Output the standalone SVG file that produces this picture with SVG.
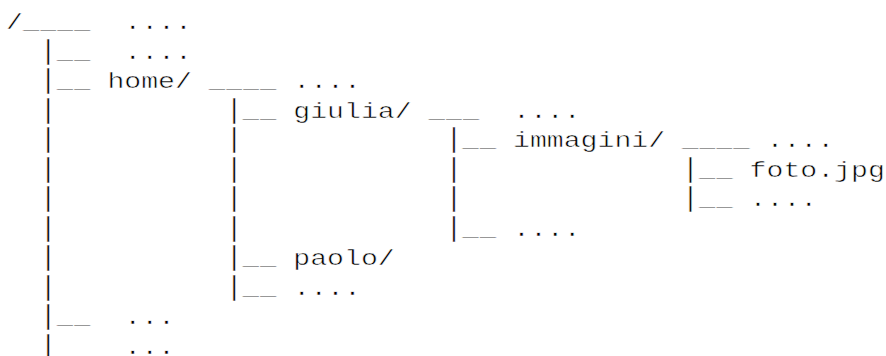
<svg xmlns="http://www.w3.org/2000/svg" width="886" height="356" viewBox="0 0 886 356">
  <style>
    text { font-family: "Liberation Mono", "Courier New", monospace; font-size: 22px; fill: #000; stroke: #fff; stroke-width: 0.5px; white-space: pre; }
    .bar { font-size: 28px; }
  </style>
  <rect width="886" height="356" fill="#fff"/>

  <!-- ASCII connectors of the directory tree (column width 16.9px, row pitch 29.5px);
       the "|" glyphs are set larger so each column reads as a near-continuous line -->
  <g id="connectors">
    <text x="22.9" y="29.3" textLength="67.6" lengthAdjust="spacingAndGlyphs">____</text>

    <text class="bar" x="39.8" y="58.8" textLength="16.9" lengthAdjust="spacingAndGlyphs">|</text>
    <text x="56.7" y="58.8" textLength="33.8" lengthAdjust="spacingAndGlyphs">__</text>

    <text class="bar" x="39.8" y="88.3" textLength="16.9" lengthAdjust="spacingAndGlyphs">|</text>
    <text x="56.7" y="88.3" textLength="33.8" lengthAdjust="spacingAndGlyphs">__</text>
    <text x="208.8" y="88.3" textLength="67.6" lengthAdjust="spacingAndGlyphs">____</text>

    <text class="bar" x="39.8" y="117.8" textLength="16.9" lengthAdjust="spacingAndGlyphs">|</text>
    <text class="bar" x="225.7" y="117.8" textLength="16.9" lengthAdjust="spacingAndGlyphs">|</text>
    <text x="242.6" y="117.8" textLength="33.8" lengthAdjust="spacingAndGlyphs">__</text>
    <text x="428.5" y="117.8" textLength="50.7" lengthAdjust="spacingAndGlyphs">___</text>

    <text class="bar" x="39.8" y="147.3" textLength="16.9" lengthAdjust="spacingAndGlyphs">|</text>
    <text class="bar" x="225.7" y="147.3" textLength="16.9" lengthAdjust="spacingAndGlyphs">|</text>
    <text class="bar" x="445.4" y="147.3" textLength="16.9" lengthAdjust="spacingAndGlyphs">|</text>
    <text x="462.3" y="147.3" textLength="33.8" lengthAdjust="spacingAndGlyphs">__</text>
    <text x="682" y="147.3" textLength="67.6" lengthAdjust="spacingAndGlyphs">____</text>

    <text class="bar" x="39.8" y="176.8" textLength="16.9" lengthAdjust="spacingAndGlyphs">|</text>
    <text class="bar" x="225.7" y="176.8" textLength="16.9" lengthAdjust="spacingAndGlyphs">|</text>
    <text class="bar" x="445.4" y="176.8" textLength="16.9" lengthAdjust="spacingAndGlyphs">|</text>
    <text class="bar" x="682" y="176.8" textLength="16.9" lengthAdjust="spacingAndGlyphs">|</text>
    <text x="698.9" y="176.8" textLength="33.8" lengthAdjust="spacingAndGlyphs">__</text>

    <text class="bar" x="39.8" y="206.3" textLength="16.9" lengthAdjust="spacingAndGlyphs">|</text>
    <text class="bar" x="225.7" y="206.3" textLength="16.9" lengthAdjust="spacingAndGlyphs">|</text>
    <text class="bar" x="445.4" y="206.3" textLength="16.9" lengthAdjust="spacingAndGlyphs">|</text>
    <text class="bar" x="682" y="206.3" textLength="16.9" lengthAdjust="spacingAndGlyphs">|</text>
    <text x="698.9" y="206.3" textLength="33.8" lengthAdjust="spacingAndGlyphs">__</text>

    <text class="bar" x="39.8" y="235.8" textLength="16.9" lengthAdjust="spacingAndGlyphs">|</text>
    <text class="bar" x="225.7" y="235.8" textLength="16.9" lengthAdjust="spacingAndGlyphs">|</text>
    <text class="bar" x="445.4" y="235.8" textLength="16.9" lengthAdjust="spacingAndGlyphs">|</text>
    <text x="462.3" y="235.8" textLength="33.8" lengthAdjust="spacingAndGlyphs">__</text>

    <text class="bar" x="39.8" y="265.3" textLength="16.9" lengthAdjust="spacingAndGlyphs">|</text>
    <text class="bar" x="225.7" y="265.3" textLength="16.9" lengthAdjust="spacingAndGlyphs">|</text>
    <text x="242.6" y="265.3" textLength="33.8" lengthAdjust="spacingAndGlyphs">__</text>

    <text class="bar" x="39.8" y="294.8" textLength="16.9" lengthAdjust="spacingAndGlyphs">|</text>
    <text class="bar" x="225.7" y="294.8" textLength="16.9" lengthAdjust="spacingAndGlyphs">|</text>
    <text x="242.6" y="294.8" textLength="33.8" lengthAdjust="spacingAndGlyphs">__</text>

    <text class="bar" x="39.8" y="324.3" textLength="16.9" lengthAdjust="spacingAndGlyphs">|</text>
    <text x="56.7" y="324.3" textLength="33.8" lengthAdjust="spacingAndGlyphs">__</text>

    <text class="bar" x="39.8" y="353.8" textLength="16.9" lengthAdjust="spacingAndGlyphs">|</text>
  </g>

  <!-- tree entries -->
  <g id="root"><text x="6" y="29.3" textLength="16.9" lengthAdjust="spacingAndGlyphs">/</text></g>
  <g id="root-more"><text x="124.3" y="29.3" textLength="67.6" lengthAdjust="spacingAndGlyphs">....</text></g>
  <g id="root-other"><text x="124.3" y="58.8" textLength="67.6" lengthAdjust="spacingAndGlyphs">....</text></g>
  <g id="home"><text x="107.4" y="88.3" textLength="84.5" lengthAdjust="spacingAndGlyphs">home/</text></g>
  <g id="home-more"><text x="293.3" y="88.3" textLength="67.6" lengthAdjust="spacingAndGlyphs">....</text></g>
  <g id="giulia"><text x="293.3" y="117.8" textLength="118.3" lengthAdjust="spacingAndGlyphs">giulia/</text></g>
  <g id="giulia-more"><text x="513" y="117.8" textLength="67.6" lengthAdjust="spacingAndGlyphs">....</text></g>
  <g id="immagini"><text x="513" y="147.3" textLength="152.1" lengthAdjust="spacingAndGlyphs">immagini/</text></g>
  <g id="immagini-more"><text x="766.5" y="147.3" textLength="67.6" lengthAdjust="spacingAndGlyphs">....</text></g>
  <g id="foto"><text x="749.6" y="176.8" textLength="135.2" lengthAdjust="spacingAndGlyphs">foto.jpg</text></g>
  <g id="immagini-other"><text x="749.6" y="206.3" textLength="67.6" lengthAdjust="spacingAndGlyphs">....</text></g>
  <g id="giulia-other"><text x="513" y="235.8" textLength="67.6" lengthAdjust="spacingAndGlyphs">....</text></g>
  <g id="paolo"><text x="293.3" y="265.3" textLength="101.4" lengthAdjust="spacingAndGlyphs">paolo/</text></g>
  <g id="home-other"><text x="293.3" y="294.8" textLength="67.6" lengthAdjust="spacingAndGlyphs">....</text></g>
  <g id="root-rest-1"><text x="124.3" y="324.3" textLength="50.7" lengthAdjust="spacingAndGlyphs">...</text></g>
  <g id="root-rest-2"><text x="124.3" y="353.8" textLength="50.7" lengthAdjust="spacingAndGlyphs">...</text></g>
</svg>
